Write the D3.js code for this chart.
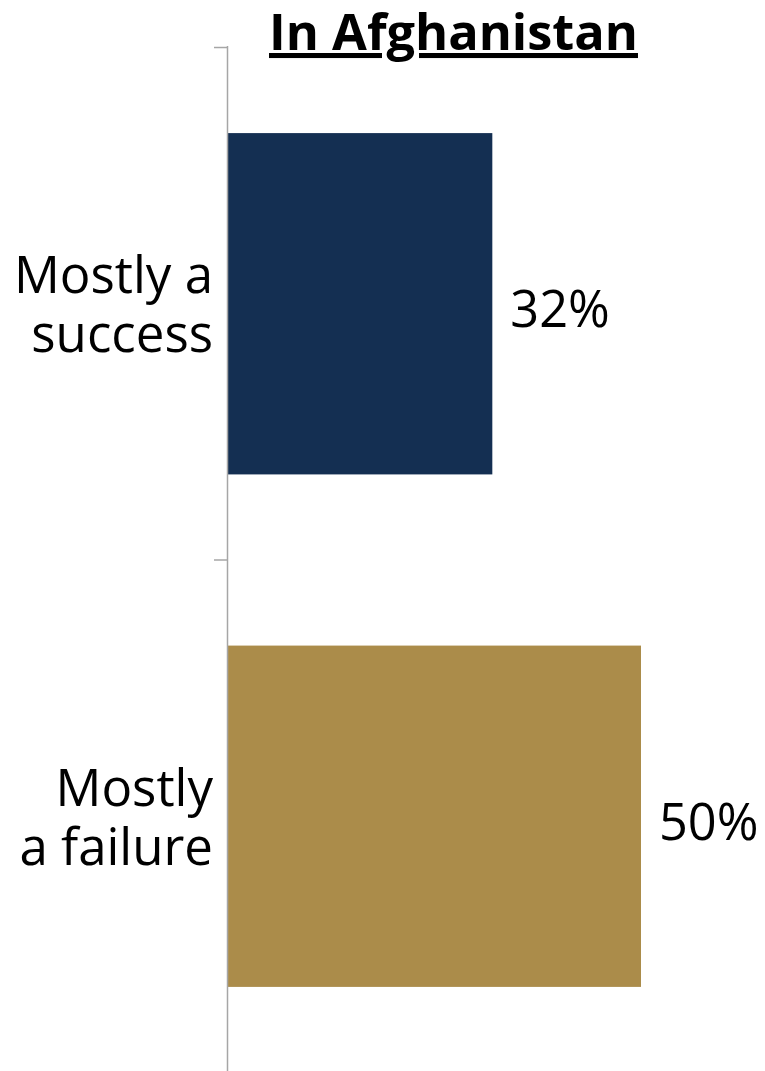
<!DOCTYPE html>
<html><head><meta charset="utf-8">
<script src="https://cdn.jsdelivr.net/npm/d3@7"></script>
<style>body{margin:0;background:#fff}svg{display:block}</style>
</head><body>
<script>
const categories = ["Mostly a success", "Mostly a failure"];
const labelLines = [["Mostly a", "success"], ["Mostly", "a failure"]];
const values = [32, 50];
const valueLabels = ["32%", "50%"];
const colors = ["#142f52", "#ab8c4a"];
const title = "In Afghanistan";

const W = 765, H = 1071;
const svg = d3.select("body").append("svg").attr("width", W).attr("height", H);
const font = "'Open Sans', 'Noto Sans', sans-serif";

const x0 = 228;
const x = d3.scaleLinear().domain([0, 50]).range([x0, 641]);
const y = d3.scaleBand().domain(categories).range([47, 1073]).paddingInner(0.334).paddingOuter(0.168);
const step = y.step();

// bars
svg.selectAll("rect.bar").data(categories).join("rect")
  .attr("x", x(0)).attr("y", d => y(d))
  .attr("width", (d, i) => x(values[i]) - x(0))
  .attr("height", y.bandwidth())
  .attr("fill", (d, i) => colors[i]);

// axis line
svg.append("line").attr("x1", x0 - 0.5).attr("x2", x0 - 0.5).attr("y1", 46).attr("y2", H)
  .attr("stroke", "#a6a6a6").attr("stroke-width", 1.5);
// ticks at band boundaries
const bounds = categories.map(c => y(c) - y.paddingInner() * step / 2);
bounds.push(y(categories[categories.length - 1]) + y.bandwidth() + y.paddingInner() * step / 2);
svg.selectAll("line.tick").data(bounds).join("line")
  .attr("x1", 214).attr("x2", x0).attr("y1", d => d).attr("y2", d => d)
  .attr("stroke", "#a6a6a6").attr("stroke-width", 1.5);

// category labels
categories.forEach((c, i) => {
  const cy = y(c) + y.bandwidth() / 2;
  const t = svg.append("text").attr("text-anchor", "end").attr("font-family", font)
    .attr("font-size", 51).attr("fill", "#000");
  labelLines[i].forEach((ln, j) => {
    t.append("tspan").attr("x", 213).attr("y", cy - 10.5 + j * 59).text(ln);
  });
});

// value labels
svg.selectAll("text.val").data(categories).join("text")
  .attr("x", (d, i) => x(values[i]) + 18)
  .attr("y", d => y(d) + y.bandwidth() / 2 + 23.5)
  .attr("font-family", font).attr("font-size", 50.5).attr("fill", "#000")
  .text((d, i) => valueLabels[i]);

// title
svg.append("text").attr("x", 453.5).attr("y", 50).attr("text-anchor", "middle")
  .attr("font-family", font).attr("font-weight", "bold").attr("font-size", 50.5)
  .attr("text-decoration", "underline").attr("fill", "#000").text(title);
</script>
</body></html>
